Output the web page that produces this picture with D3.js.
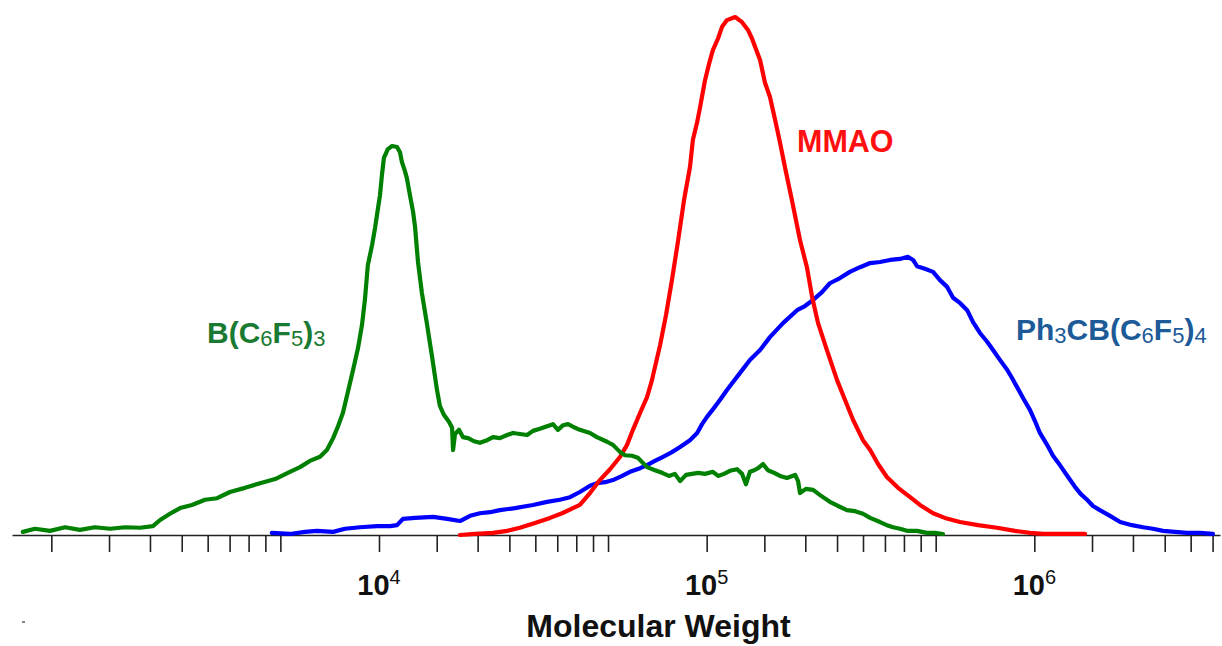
<!DOCTYPE html>
<html>
<head>
<meta charset="utf-8">
<script src="https://cdn.jsdelivr.net/npm/d3@7"></script>
<style>
  html, body { margin: 0; padding: 0; background: #fff; }
  svg { display: block; }
  text { font-family: "Liberation Sans", Arial, sans-serif; font-weight: bold; }
</style>
</head>
<body>
<svg id="chart" width="1222" height="646"></svg>
<script>
// ---------------- data (log10 molecular weight, normalized signal) ----------------
const bcfLogMW = [2.913,2.950,2.996,3.042,3.087,3.133,3.179,3.225,3.271,3.310,
  3.332,3.362,3.393,3.429,3.469,3.506,3.545,3.591,3.637,3.683,
  3.728,3.759,3.789,3.820,3.841,3.860,3.875,3.890,3.905,3.921,
  3.936,3.948,3.957,3.966,3.979,3.988,3.997,4.003,4.009,4.015,
  4.027,4.040,4.055,4.064,4.070,4.079,4.085,4.095,4.104,4.110,
  4.119,4.131,4.146,4.162,4.177,4.186,4.198,4.214,4.223,4.226,
  4.232,4.244,4.256,4.272,4.290,4.308,4.330,4.348,4.369,4.391,
  4.409,4.430,4.452,4.470,4.491,4.513,4.531,4.546,4.562,4.577,
  4.595,4.613,4.644,4.665,4.696,4.714,4.736,4.751,4.772,4.790,
  4.818,4.842,4.864,4.885,4.903,4.919,4.937,4.955,4.974,4.995,
  5.019,5.035,5.053,5.071,5.093,5.108,5.120,5.132,5.145,5.157,
  5.172,5.187,5.206,5.224,5.245,5.270,5.279,5.285,5.303,5.325,
  5.346,5.376,5.401,5.428,5.453,5.477,5.499,5.529,5.550,5.569,
  5.590,5.611,5.642,5.672,5.697,5.721];
const bcfSignal = [0.6,1.2,0.8,1.5,1.0,1.5,1.2,1.5,1.4,1.7,
  2.9,4.1,5.2,5.8,6.8,7.1,8.3,9.1,10.0,10.8,
  12.2,13.1,14.3,15.1,16.4,18.7,21.0,23.6,27.6,31.9,
  36.1,40.5,45.4,52.1,56.0,59.3,63.1,65.6,69.5,72.8,
  74.5,75.1,74.9,73.9,72.0,70.3,68.9,65.4,62.4,59.5,
  52.7,46.7,40.9,34.4,28.0,24.9,23.2,21.8,20.7,16.4,
  19.5,20.3,18.9,18.7,18.1,17.8,18.3,18.9,18.7,19.3,
  19.7,19.5,19.3,20.1,20.5,21.0,21.4,20.3,21.2,21.4,
  20.8,20.3,19.7,18.9,18.0,17.4,16.0,15.4,15.3,14.9,
  13.1,12.5,12.0,11.4,11.8,10.4,11.6,11.8,12.0,11.8,
  12.2,11.4,11.8,12.4,12.7,11.8,9.8,12.2,12.5,12.9,
  13.7,12.5,12.0,11.4,11.0,11.6,10.4,8.1,8.9,8.7,
  7.7,6.4,5.6,4.8,4.6,4.1,3.3,2.5,1.9,1.5,
  1.2,0.8,0.8,0.4,0.4,0.2];

const mmaoLogMW = [4.247,4.293,4.348,4.391,4.430,4.476,4.522,4.559,4.592,4.613,
  4.644,4.674,4.705,4.736,4.757,4.775,4.797,4.818,4.833,4.858,
  4.876,4.894,4.913,4.931,4.949,4.958,4.971,4.980,4.995,5.007,
  5.019,5.035,5.047,5.062,5.087,5.108,5.126,5.138,5.148,5.163,
  5.178,5.193,5.209,5.224,5.239,5.260,5.285,5.306,5.322,5.340,
  5.367,5.398,5.422,5.447,5.477,5.499,5.523,5.550,5.584,5.621,
  5.651,5.691,5.727,5.773,5.828,5.886,5.941,5.987,6.027,6.078,
  6.155];
const mmaoSignal = [0,0.2,0.4,0.8,1.4,2.3,3.3,4.2,5.2,5.8,
  8.1,10.6,12.7,15.1,17.4,20.3,23.6,26.6,29.9,36.7,
  42.5,49.2,56.9,64.7,71.0,76.3,79.7,82.6,87.8,90.9,
  93.6,95.9,98.1,99.4,100.0,99.0,97.5,95.9,94.2,91.7,
  87.3,84.6,80.1,75.7,71.0,64.7,56.9,51.7,45.9,40.9,
  35.7,29.9,26.1,22.2,18.3,16.4,13.7,11.2,9.1,7.3,
  5.8,4.2,3.3,2.5,1.9,1.4,0.8,0.4,0.2,0.2,
  0.2];

const tritylLogMW = [3.673,3.728,3.774,3.811,3.860,3.896,3.942,3.994,4.034,4.055,
  4.073,4.110,4.165,4.208,4.247,4.278,4.308,4.339,4.369,4.415,
  4.470,4.513,4.552,4.583,4.613,4.644,4.665,4.690,4.714,4.742,
  4.766,4.797,4.818,4.842,4.867,4.894,4.919,4.949,4.971,4.986,
  5.001,5.022,5.041,5.062,5.080,5.102,5.132,5.163,5.193,5.233,
  5.276,5.300,5.325,5.352,5.376,5.407,5.437,5.468,5.499,5.529,
  5.560,5.590,5.614,5.630,5.642,5.666,5.691,5.712,5.734,5.752,
  5.773,5.795,5.813,5.834,5.856,5.874,5.895,5.917,5.932,5.947,
  5.966,5.987,6.002,6.017,6.039,6.057,6.078,6.103,6.124,6.142,
  6.161,6.179,6.200,6.231,6.262,6.298,6.332,6.362,6.393,6.429,
  6.466,6.506,6.545];
const tritylSignal = [0.4,0.2,0.6,0.8,0.6,1.2,1.5,1.7,1.7,1.9,
  3.1,3.3,3.5,3.1,2.7,3.7,4.2,4.4,4.8,5.2,
  5.8,6.4,6.8,7.3,8.3,9.5,10.0,10.2,10.6,11.4,
  12.2,12.9,13.5,14.3,15.1,16.0,17.0,18.3,19.7,21.4,
  22.8,24.5,26.1,28.0,29.5,31.3,33.8,35.7,38.2,40.9,
  43.4,44.2,45.4,46.9,48.6,49.6,50.8,51.7,52.5,52.7,
  53.1,53.3,53.7,53.1,51.9,51.4,50.8,49.2,47.9,45.8,
  44.8,43.4,41.1,39.0,37.3,35.7,33.8,31.9,30.3,28.6,
  26.4,24.1,22.0,19.7,17.4,15.3,13.5,11.2,9.3,7.9,
  6.8,5.6,4.8,3.7,2.5,1.9,1.5,1.2,0.8,0.6,
  0.4,0.4,0.2];

// axis ticks and labels
const tickValues = [1000,1500,2000,2500,3000,3500,4000,4500,5000,
  10000,15000,20000,25000,30000,35000,40000,45000,50000,
  100000,150000,200000,250000,300000,350000,400000,450000,500000,
  1000000,1500000,2000000,2500000,3000000,3500000];
const labelValues = [1e4, 1e5, 1e6];
const labelBase = ["10", "10", "10"];
const labelExp = ["4", "5", "6"];
const xTitle = "Molecular Weight";
const xDomain = [758.5, 3.687e6];
const yDomain = [0, 100];

// ---------------- layout ----------------
const svg = d3.select("#chart");
const x = d3.scaleLog().domain(xDomain).range([12, 1220]);
const y = d3.scaleLinear().domain(yDomain).range([535, 17]);

// axis
const axis = d3.axisBottom(x)
  .tickValues(tickValues)
  .tickFormat("")
  .tickSizeInner(17)
  .tickSizeOuter(0);
const gAxis = svg.append("g").attr("transform", `translate(0,${y(0)})`).call(axis);
gAxis.select(".domain").attr("stroke", "#222").attr("stroke-width", 1.6);
gAxis.selectAll(".tick line").attr("stroke", "#222").attr("stroke-width", 1.6);

// major labels 10^n
labelValues.forEach((v, i) => {
  const t = svg.append("text")
    .attr("x", x(v))
    .attr("y", 595)
    .attr("text-anchor", "middle")
    .attr("fill", "#111")
    .style("font-size", "29px");
  t.append("tspan").text(labelBase[i]);
  t.append("tspan").attr("dy", -11.5).style("font-size", "20px").style("font-weight", "normal").text(labelExp[i]);
});

// axis title
svg.append("text")
  .attr("x", 658.5).attr("y", 637)
  .attr("text-anchor", "middle")
  .attr("fill", "#111")
  .style("font-size", "32px")
  .text(xTitle);

// small stray mark at lower left
svg.append("line").attr("x1", 22).attr("x2", 25).attr("y1", 622).attr("y2", 622)
  .attr("stroke", "#333").attr("stroke-width", 1.2);

// curves
const line = d3.line()
  .x(d => x(Math.pow(10, d[0])))
  .y(d => y(d[1]))
  .curve(d3.curveLinear);

const series = [
  { lx: tritylLogMW, ly: tritylSignal, color: "#0000ff" },
  { lx: mmaoLogMW, ly: mmaoSignal, color: "#ff0000" },
  { lx: bcfLogMW, ly: bcfSignal, color: "#008000" }
];
series.forEach(s => {
  const pts = s.lx.map((v, i) => [v, s.ly[i]]);
  svg.append("path")
    .datum(pts)
    .attr("d", line)
    .attr("fill", "none")
    .attr("stroke", s.color)
    .attr("stroke-width", 4.2)
    .attr("stroke-linejoin", "round")
    .attr("stroke-linecap", "round");
});

// series labels with sub-scripts
function richLabel(xPos, yPos, color, size, subSize, parts) {
  const t = svg.append("text")
    .attr("x", xPos).attr("y", yPos)
    .attr("fill", color)
    .style("font-size", size + "px");
  let shifted = false;
  parts.forEach(p => {
    const sp = t.append("tspan").text(p.t);
    if (p.sub) {
      sp.style("font-size", subSize + "px").style("font-weight", "normal");
      if (!shifted) { sp.attr("dy", 3); shifted = true; }
    } else if (shifted) {
      sp.attr("dy", -3); shifted = false;
    }
  });
}

richLabel(207, 343, "#1b7a32", 30, 22, [
  { t: "B(C" }, { t: "6", sub: true }, { t: "F" }, { t: "5", sub: true }, { t: ")" }, { t: "3", sub: true }
]);
richLabel(797, 151.5, "#ff1010", 30.5, 20, [{ t: "MMAO" }]);
richLabel(1016, 339.5, "#1d5a98", 30, 22, [
  { t: "Ph" }, { t: "3", sub: true }, { t: "CB(C" }, { t: "6", sub: true }, { t: "F" }, { t: "5", sub: true }, { t: ")" }, { t: "4", sub: true }
]);
</script>
</body>
</html>
